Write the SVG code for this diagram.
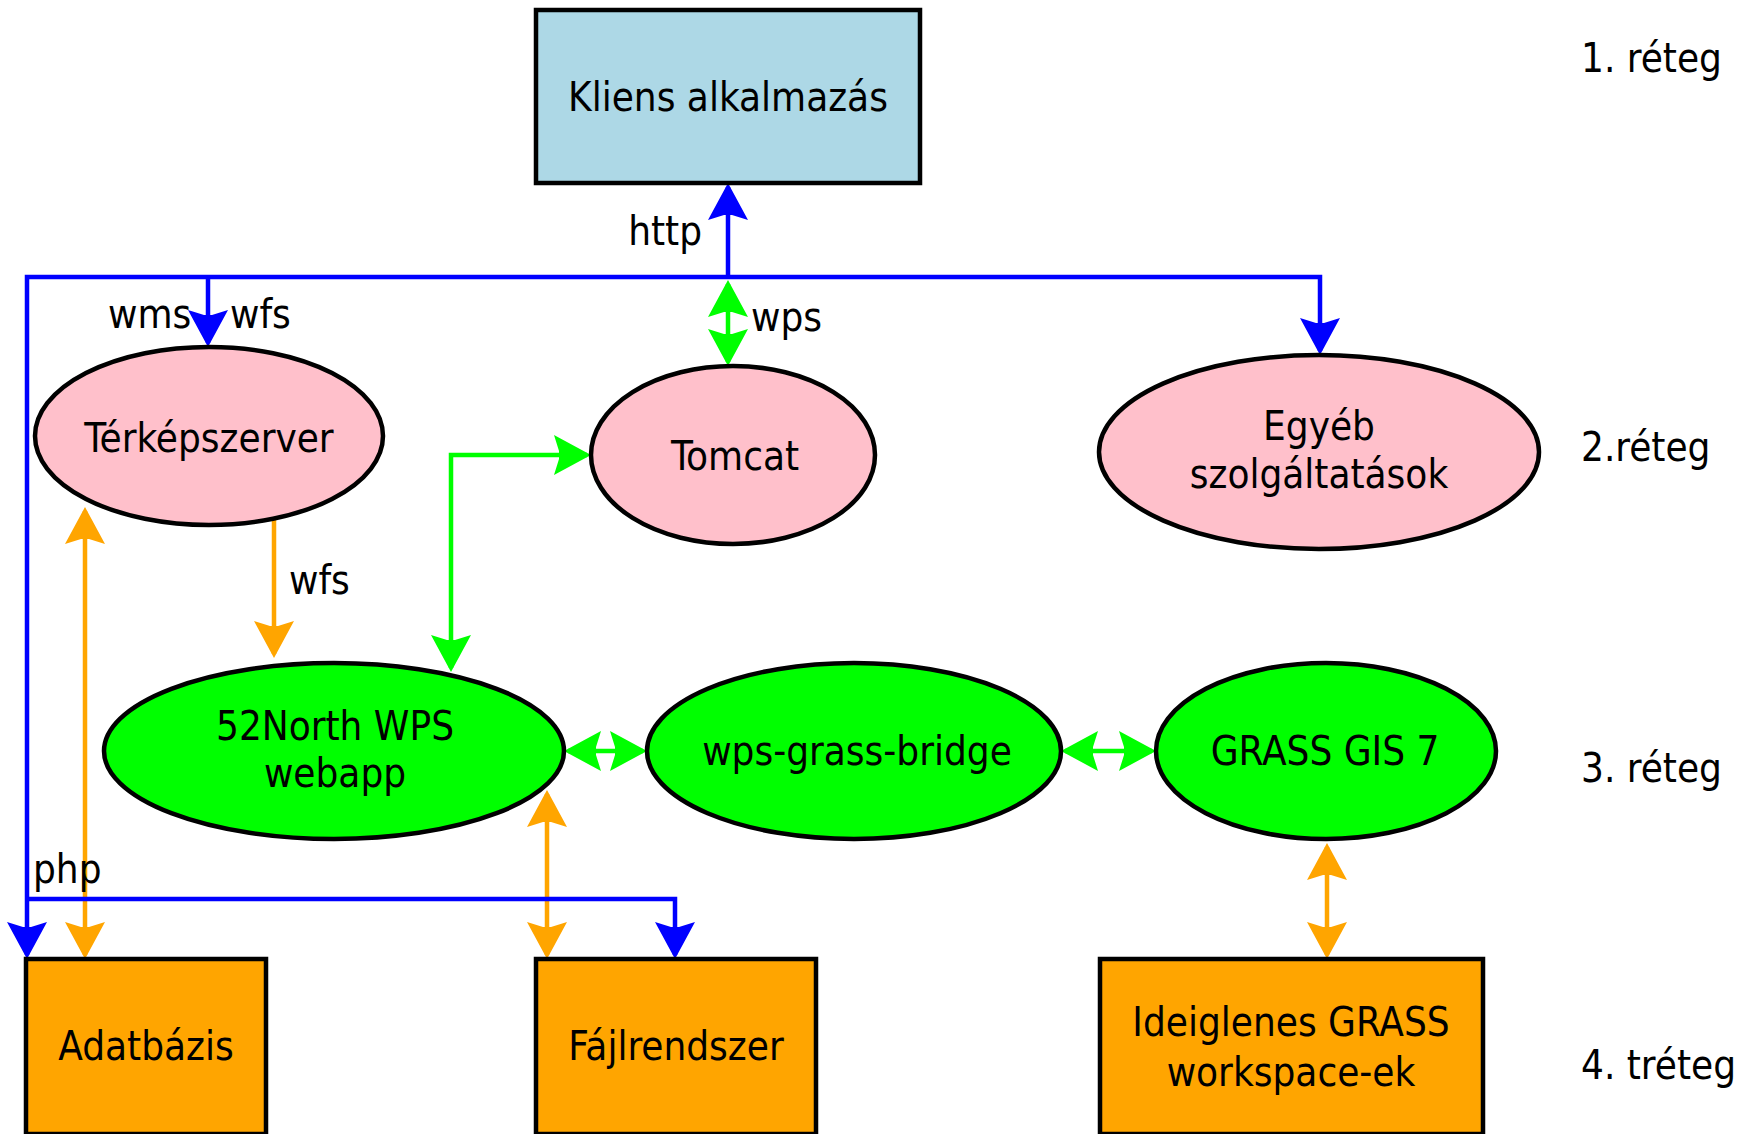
<svg xmlns="http://www.w3.org/2000/svg" width="1740" height="1134" viewBox="0 0 1740 1134">
<style>
text{font-family:"DejaVu Sans Condensed","DejaVu Sans",sans-serif;font-stretch:condensed;font-size:40px;fill:#000;dominant-baseline:central}
.c{text-anchor:middle}
.node rect,.node ellipse{stroke:#000;stroke-width:4.5}
.blue{fill:#add8e6}.pink{fill:#ffc0cb}.green{fill:#00ff00}.orange{fill:#ffa500}
.conn path{fill:none;stroke-width:4.5;stroke-linejoin:miter}
.b{stroke:#0000ff;marker-end:url(#ab)}
.g{stroke:#00ff00;marker-start:url(#ag);marker-end:url(#ag)}
.o{stroke:#ffa500;marker-start:url(#ao);marker-end:url(#ao)}
.o1{stroke:#ffa500;marker-end:url(#ao)}
</style>
<defs>
<marker id="ab" viewBox="-40 -24 48 48" refX="0" refY="0" markerWidth="48" markerHeight="48" markerUnits="userSpaceOnUse" orient="auto-start-reverse"><path d="M4,0 L-33,-20 L-28,-4 L-28,4 L-33,20 Z" fill="#0000ff"/></marker>
<marker id="ag" viewBox="-40 -24 48 48" refX="0" refY="0" markerWidth="48" markerHeight="48" markerUnits="userSpaceOnUse" orient="auto-start-reverse"><path d="M4,0 L-33,-20 L-28,-4 L-28,4 L-33,20 Z" fill="#00ff00"/></marker>
<marker id="ao" viewBox="-40 -24 48 48" refX="0" refY="0" markerWidth="48" markerHeight="48" markerUnits="userSpaceOnUse" orient="auto-start-reverse"><path d="M4,0 L-33,-20 L-28,-4 L-28,4 L-33,20 Z" fill="#ffa500"/></marker>
</defs>
<rect width="1740" height="1134" fill="#fff"/>
<g id="connectors" class="conn">
<path class="o1" d="M274,519 L274,654"/>
<path class="o" d="M85,511 L85,955"/>
<path class="o" d="M547,794 L547,955"/>
<path class="o" d="M1327,847 L1327,955"/>
<path class="g" d="M728,284 L728,362"/>
<path class="g" d="M587,455 L451,455 L451,668"/>
<path class="g" d="M568,751 L643,751"/>
<path class="g" d="M1065,751 L1152,751"/>
<path class="b" d="M728,277 L728,187"/>
<path class="b" d="M728,277 L27,277 L27,955"/>
<path class="b" d="M208,277 L208,343"/>
<path class="b" d="M728,277 L1320,277 L1320,351"/>
<path class="b" d="M27,899 L675,899 L675,955"/>
<text x="702" y="231" style="text-anchor:end">http</text>
<text x="108" y="314">wms</text>
<text x="230" y="314">wfs</text>
<text x="751" y="317">wps</text>
<text x="289" y="580">wfs</text>
<text x="33" y="869">php</text>
</g>
<g id="kliens" class="node"><rect class="blue" x="536" y="10" width="384" height="173"/><text class="c" x="728" y="97">Kliens alkalmazás</text></g>
<g id="terkepszerver" class="node"><ellipse class="pink" cx="209" cy="436" rx="174" ry="89"/><text class="c" x="209" y="438">Térképszerver</text></g>
<g id="tomcat" class="node"><ellipse class="pink" cx="733" cy="455" rx="142" ry="89"/><text class="c" x="735" y="456">Tomcat</text></g>
<g id="egyeb" class="node"><ellipse class="pink" cx="1319" cy="452" rx="220" ry="97"/><text class="c" x="1319" y="426">Egyéb</text><text class="c" x="1319" y="474">szolgáltatások</text></g>
<g id="wps52" class="node"><ellipse class="green" cx="334" cy="751" rx="230" ry="88"/><text class="c" x="335" y="726">52North WPS</text><text class="c" x="335" y="773">webapp</text></g>
<g id="bridge" class="node"><ellipse class="green" cx="854" cy="751" rx="207" ry="88"/><text class="c" x="857" y="751">wps-grass-bridge</text></g>
<g id="grass" class="node"><ellipse class="green" cx="1326" cy="751" rx="170" ry="88"/><text class="c" x="1325" y="751">GRASS GIS 7</text></g>
<g id="adatbazis" class="node"><rect class="orange" x="26" y="959" width="240" height="175"/><text class="c" x="146" y="1046">Adatbázis</text></g>
<g id="fajlrendszer" class="node"><rect class="orange" x="536" y="959" width="280" height="175"/><text class="c" x="676" y="1046">Fájlrendszer</text></g>
<g id="ideiglenes" class="node"><rect class="orange" x="1100" y="959" width="383" height="175"/><text class="c" x="1291" y="1022">Ideiglenes GRASS</text><text class="c" x="1291" y="1072">workspace-ek</text></g>
<g id="layers">
<text x="1581" y="58">1. réteg</text>
<text x="1581" y="447">2.réteg</text>
<text x="1581" y="768">3. réteg</text>
<text x="1581" y="1065">4. tréteg</text>
</g>
</svg>
